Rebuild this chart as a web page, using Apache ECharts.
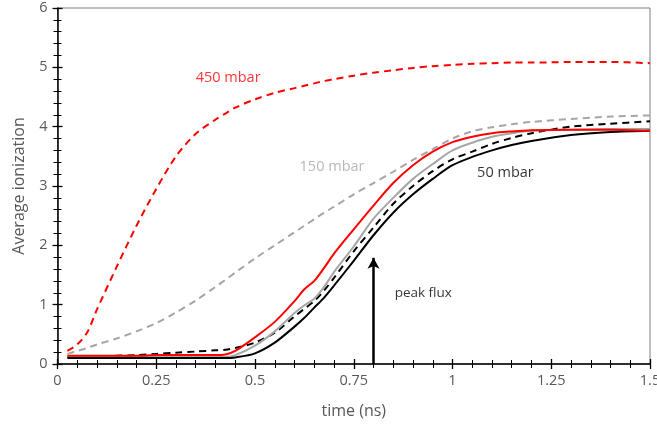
<!DOCTYPE html>
<html>
<head>
<meta charset="utf-8">
<script src="https://cdn.jsdelivr.net/npm/echarts@6/dist/echarts.min.js"></script>
<style>html,body{margin:0;padding:0;background:#fff;overflow:hidden}#c{width:657px;height:426px}</style>
</head>
<body>
<div id="c"></div>
<script>
// time axis (ns)
var time = [0.025,0.05,0.075,0.1,0.15,0.2,0.25,0.3,0.35,0.4,0.425,0.45,0.5,0.55,0.6,0.625,0.65,0.675,0.7,0.75,0.8,0.85,0.9,0.95,1.0,1.05,1.1,1.15,1.2,1.3,1.4,1.5];
// 450 mbar dashed (red)
var ion450dash = [0.22,0.33,0.53,0.92,1.64,2.33,2.95,3.5,3.88,4.12,4.22,4.32,4.46,4.57,4.65,4.69,4.73,4.77,4.8,4.86,4.91,4.95,4.99,5.02,5.04,5.06,5.07,5.08,5.08,5.09,5.09,5.07];
// 150 mbar dashed (grey)
var ion150dash = [0.17,0.22,0.27,0.33,0.43,0.55,0.69,0.87,1.07,1.3,1.42,1.54,1.78,2.0,2.22,2.33,2.44,2.55,2.65,2.86,3.05,3.24,3.44,3.62,3.8,3.92,3.99,4.04,4.08,4.13,4.17,4.19];
// 50 mbar dashed (black)
var ion50dash = [0.12,0.12,0.125,0.13,0.14,0.15,0.17,0.19,0.21,0.23,0.24,0.27,0.36,0.53,0.8,0.93,1.06,1.24,1.45,1.9,2.3,2.7,3.0,3.25,3.45,3.58,3.71,3.81,3.89,4.0,4.05,4.09];
// 450 mbar solid (red)
var ion450 = [0.14,0.14,0.14,0.14,0.14,0.14,0.15,0.15,0.15,0.15,0.16,0.22,0.45,0.71,1.06,1.26,1.4,1.62,1.86,2.27,2.67,3.05,3.35,3.58,3.74,3.83,3.89,3.92,3.94,3.95,3.95,3.93];
// 150 mbar solid (grey)
var ion150 = [0.12,0.12,0.12,0.12,0.12,0.12,0.12,0.12,0.12,0.12,0.12,0.15,0.31,0.55,0.86,0.99,1.1,1.3,1.55,1.98,2.45,2.8,3.12,3.37,3.6,3.73,3.83,3.89,3.93,3.95,3.96,3.96];
// 50 mbar solid (black)
var ion50 = [0.1,0.1,0.1,0.1,0.1,0.1,0.1,0.1,0.1,0.1,0.1,0.11,0.18,0.36,0.63,0.78,0.95,1.12,1.32,1.74,2.17,2.55,2.86,3.12,3.35,3.49,3.6,3.69,3.76,3.86,3.91,3.93];
// annotations
var labelTexts = ['450 mbar','150 mbar','50 mbar','peak flux'];
var labelAnchors = [[0.432,4.82],[0.695,3.32],[1.134,3.22],[0.926,1.2]];
var peakFluxTime = 0.8, arrowTop = 1.79;

function pairs(ys){ return time.map(function(t,i){ return [t, ys[i]]; }); }

var labelColors = ['#ff0000','#a6a6a6','#000000','#000000'];
var labelSizes = [14.5,14.5,14.5,13.5];

var chart = echarts.init(document.getElementById('c'));
var font = 'Open Sans';
var tickCol = '#595959';

function lineSeries(name, ys, color, dashed){
  return {
    type:'line', name:name, data:pairs(ys), smooth:0.3, symbol:'none',
    lineStyle:{color:color, width:2, type: dashed ? [7,5] : 'solid'},
    z: 3
  };
}

var series = [
  lineSeries('450 mbar dashed', ion450dash, '#ff0000', true),
  lineSeries('150 mbar dashed', ion150dash, '#a6a6a6', true),
  lineSeries('50 mbar dashed', ion50dash, '#000000', true),
  lineSeries('150 mbar', ion150, '#a6a6a6', false),
  lineSeries('50 mbar', ion50, '#000000', false),
  lineSeries('450 mbar', ion450, '#ff0000', false),
  {
    type:'scatter', symbolSize:0, silent:true,
    data: labelTexts.map(function(txt,i){
      return {value:[labelAnchors[i][0], labelAnchors[i][1], txt],
        label:{show:true, position:'inside', formatter:txt, color:labelColors[i], fontSize:labelSizes[i], fontFamily:font}};
    }),
    markLine:{
      silent:true, symbol:['none','arrow'], symbolSize:[9,11],
      label:{show:false},
      lineStyle:{color:'#000', width:2.5, type:'solid'},
      data:[[{coord:[peakFluxTime,0]},{coord:[peakFluxTime,arrowTop]}]]
    }
  }
];

chart.setOption({
  animation:false,
  backgroundColor:'#fff',
  grid:{left:57.5, right:7, top:8, bottom:62, show:true, borderColor:'#7f7f7f', borderWidth:1, containLabel:false, outerBoundsMode:'none'},
  xAxis:[{
    type:'value', min:0, max:1.5, interval:0.25,
    name:'time (ns)', nameLocation:'middle', nameGap:39,
    nameTextStyle:{color:tickCol, fontSize:16, fontFamily:font},
    axisLine:{show:true, onZero:false, lineStyle:{color:'#000', width:1.5}},
    axisTick:{show:true, inside:false, length:5, lineStyle:{color:'#000', width:1.3}},
    minorTick:{show:true, splitNumber:5, length:4, lineStyle:{color:'#000', width:1}},
    axisLabel:{color:tickCol, fontSize:14.5, fontFamily:font, margin:9},
    splitLine:{show:false}
  },{
    type:'value', min:0, max:1.5, interval:0.25, position:'bottom',
    axisLine:{show:false},
    axisTick:{show:true, inside:true, length:5, lineStyle:{color:'#000', width:1.3}},
    minorTick:{show:true, splitNumber:5, length:4, lineStyle:{color:'#000', width:1}},
    axisLabel:{show:false}, splitLine:{show:false}
  }],
  yAxis:[{
    type:'value', min:0, max:6, interval:1,
    name:'Average ionization', nameLocation:'middle', nameGap:30,
    nameTextStyle:{color:tickCol, fontSize:16, fontFamily:font},
    axisLine:{show:true, onZero:false, lineStyle:{color:'#000', width:1.5}},
    axisTick:{show:true, inside:false, length:5, lineStyle:{color:'#000', width:1.3}},
    minorTick:{show:true, splitNumber:5, length:4, lineStyle:{color:'#000', width:1}},
    axisLabel:{color:tickCol, fontSize:14.5, fontFamily:font, margin:10},
    splitLine:{show:false}
  },{
    type:'value', min:0, max:6, interval:1, position:'left',
    axisLine:{show:false},
    axisTick:{show:true, inside:true, length:5, lineStyle:{color:'#000', width:1.3}},
    minorTick:{show:true, splitNumber:5, length:4, lineStyle:{color:'#000', width:1}},
    axisLabel:{show:false}, splitLine:{show:false}
  }],
  series: series
});
</script>
</body>
</html>
